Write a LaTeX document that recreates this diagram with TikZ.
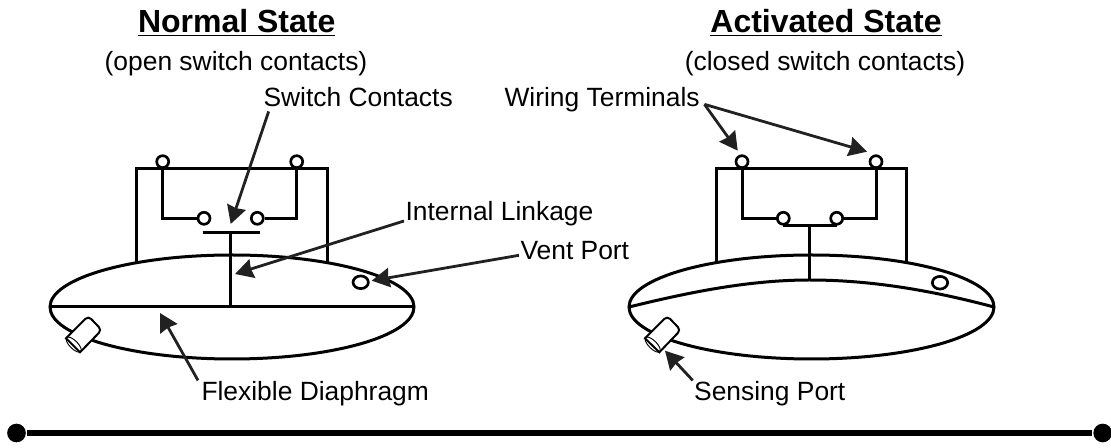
\documentclass[tikz,border=0pt]{standalone}
\usepackage{fontspec}
\setmainfont{Liberation Sans}
\usetikzlibrary{arrows.meta,shapes.geometric}

\tikzset{every picture/.style={line width=2.25pt}}
\tikzset{
  terminal/.style={draw,circle,fill=white,inner sep=0pt,minimum size=9pt,line width=2pt},
  ventport/.style={draw,ellipse,fill=white,inner sep=0pt,minimum width=11.5pt,minimum height=9.5pt,line width=2pt},
  label/.style={inner sep=0pt,font=\fontsize{19.8}{24}\selectfont},
  heading/.style={inner sep=0pt,font=\fontsize{24}{28}\selectfont\bfseries},
  pointer/.style={draw=black!87,line width=2.1pt,-{Stealth[inset=1pt,length=13.5pt,width=14.5pt]}},
  enddot/.style={circle,fill=black,inner sep=0pt,minimum size=14pt},
  portbody/.style={fill=white,line width=1.5pt},
  portcap/.style={line width=0.7pt}
}

\begin{document}
\begin{tikzpicture}[x=0.75pt,y=0.75pt,yscale=-1,xscale=1]
\useasboundingbox (0,0) rectangle (1111,448);

% Normal state housing
\draw (232,307) ellipse (182 and 52);
\draw (136.7,262.7) -- (136.7,169) -- (327,169) -- (327,262.7) ;
\draw (50,307) -- (414,307) ;
\node [terminal] (termNa) at (162.7,161.7) {};
\node [terminal] (termNb) at (296.7,161.7) {};
\node [terminal] (contactNa) at (204,218.3) {};
\node [terminal] (contactNb) at (257.3,218.3) {};
\draw (termNa.south) |- (contactNa.west) ;
\draw (termNb.south) |- (contactNb.east) ;
\coordinate (barNa) at (202.7,232.7);
\coordinate (barNb) at (260,232.7);
\coordinate (stemNa) at (230,232.7);
\coordinate (stemNb) at (230,307);
\draw (barNa) -- (barNb) ;
\draw (stemNa) -- (stemNb) ;
\node [ventport] (ventN) at (360.7,282.3) {};
% Normal state sensing port
\draw [portbody] (66,338.3) [rounded corners=3pt] -- (88.3,316) -- (101.7,330) [sharp corners] -- (80,352.3) -- cycle ;
\draw [portcap,rotate around={45:(73.7,344.6)}] (73.7,344.6) ellipse (10 and 4);

% Activated state housing
\draw (811.5,307) ellipse (182.5 and 52);
\draw (716,262.7) -- (716,169) -- (906.7,169) -- (906.7,262.7) ;
\draw (629,307) .. controls (690,292) and (750,280) .. (809.3,280) .. controls (870,280) and (930,290) .. (994,307) ;
\node [terminal] (termAa) at (742,161.7) {};
\node [terminal] (termAb) at (876,161.7) {};
\coordinate (barAa) at (783.3,225.7);
\coordinate (barAb) at (836.7,225.7);
\coordinate (stemAa) at (809.3,225.7);
\coordinate (stemAb) at (809.3,280);
\draw (barAa) -- (barAb) ;
\draw (stemAa) -- (stemAb) ;
\node [terminal] (contactAa) at (783.3,218.3) {};
\node [terminal] (contactAb) at (836.7,218.3) {};
\draw (termAa.south) |- (contactAa.west) ;
\draw (termAb.south) |- (contactAb.east) ;
\node [ventport] (ventA) at (940,282.7) {};
% Activated state sensing port
\draw [portbody] (645,338.3) [rounded corners=3pt] -- (667.3,316) -- (680.7,330) [sharp corners] -- (659.3,352.3) -- cycle ;
\draw [portcap,rotate around={45:(652.7,344.6)}] (652.7,344.6) ellipse (10 and 4);

% Text Node
\node [heading,anchor=base] (headN) at (236.7,33) {\underline{Normal State}};
\node [heading,anchor=base] (headA) at (826,33) {\underline{Activated State}};
\node [label,anchor=base] (subN) at (236,70.7) {(open switch contacts)};
\node [label,anchor=base] (subA) at (825,70.7) {(closed switch contacts)};
\node [label,anchor=base west] (lblSwitch) at (262,107) {Switch Contacts};
\node [label,anchor=base west] (lblWiring) at (503,107) {Wiring Terminals};
\node [label,anchor=base west] (lblLinkage) at (404,221) {Internal Linkage};
\node [label,anchor=base west] (lblVent) at (519,259.3) {Vent Port};
\node [label,anchor=base west] (lblDiaphragm) at (200,401) {Flexible Diaphragm};
\node [label,anchor=base west] (lblSensing) at (692.7,401) {Sensing Port};

% Pointers
\coordinate (tipSwitch) at (230.7,224);
\coordinate (tipLinkage) at (235,274);
\coordinate (tipVent) at (371.7,280.7);
\coordinate (tipDiaphragm) at (160,313);
\coordinate (tipTermA) at (737.7,150.7);
\coordinate (tipTermB) at (867,151.7);
\coordinate (tipSensing) at (665,350.7);
\draw [pointer] ([xshift=5pt,yshift=2pt]lblSwitch.south west) -- (tipSwitch) ;
\draw [pointer] (lblLinkage.base west) -- (tipLinkage) ;
\draw [pointer] ([yshift=-3pt]lblVent.base west) -- (tipVent) ;
\draw [pointer] ([xshift=-1.5pt]lblDiaphragm.north west) -- (tipDiaphragm) ;
\draw [pointer] ([xshift=2.5pt,yshift=-2pt]lblWiring.base east) -- (tipTermA) ;
\draw [pointer] ([xshift=2.5pt,yshift=-2pt]lblWiring.base east) -- (tipTermB) ;
\draw [pointer] (lblSensing.north west) -- (tipSensing) ;

% Rule with end dots
\node [enddot] (dotL) at (16.5,433) {};
\node [enddot] (dotR) at (1102.7,433) {};
\draw [line width=5pt] (dotL) -- (dotR) ;

\end{tikzpicture}
\end{document}
